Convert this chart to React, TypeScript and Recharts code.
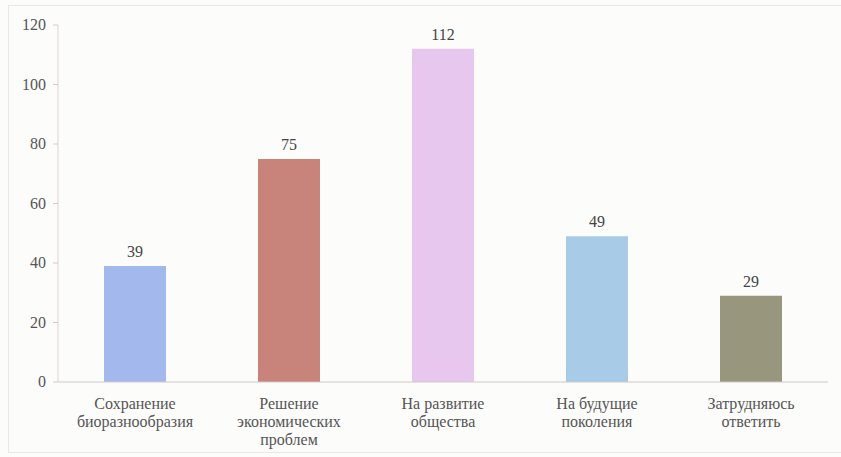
import { BarChart, Bar, XAxis, YAxis, Cell, LabelList } from "recharts";

const categories = [
  ["Сохранение", "биоразнообразия"],
  ["Решение", "экономических", "проблем"],
  ["На развитие", "общества"],
  ["На будущие", "поколения"],
  ["Затрудняюсь", "ответить"],
];
const values = [39, 75, 112, 49, 29];
const barColors = ["#a3b8ec", "#c8847b", "#e8c7ef", "#a8cbe7", "#98967c"];
const yTicks = [0, 20, 40, 60, 80, 100, 120];

const data = categories.map((lines, i) => ({ name: lines.join(" "), value: values[i] }));

const FONT = "Liberation Serif";

const CategoryTick = (props: any) => {
  const { x, y, payload, index } = props;
  const lines: string[] = categories[index] ?? [payload.value];
  return (
    <text x={x} y={y + 19} textAnchor="middle" fill="#555" fontSize={16} fontFamily={FONT}>
      {lines.map((line, i) => (
        <tspan key={i} x={x} dy={i === 0 ? 0 : 18}>
          {line}
        </tspan>
      ))}
    </text>
  );
};

const ValueTick = (props: any) => {
  const { x, y, payload } = props;
  return (
    <text x={x - 5} y={y} dy={5} textAnchor="end" fill="#555" fontSize={16} fontFamily={FONT}>
      {payload.value}
    </text>
  );
};

export default function App() {
  return (
    <div
      style={{
        position: "absolute",
        left: 0,
        top: 0,
        width: 841,
        height: 457,
        background: "#fcfcfb",
      }}
    >
      <div
        style={{
          position: "absolute",
          left: 8,
          top: 5,
          width: 833,
          height: 446,
          border: "1px solid #eee5e5",
          borderRight: "none",
        }}
      />
      <BarChart
        width={841}
        height={457}
        data={data}
        margin={{ top: 25, right: 13, left: 8, bottom: 5 }}
      >
        <XAxis
          dataKey="name"
          interval={0}
          height={70}
          tick={<CategoryTick />}
          tickLine={false}
          axisLine={{ stroke: "#cfc8c8" }}
        />
        <YAxis
          width={50}
          domain={[0, 120]}
          ticks={yTicks}
          tick={<ValueTick />}
          tickLine={{ stroke: "#d8c8c8" }}
          tickSize={5}
          axisLine={{ stroke: "#e0d2d2" }}
        />
        <Bar dataKey="value" isAnimationActive={false} barSize={62}>
          {data.map((_, i) => (
            <Cell key={i} fill={barColors[i]} />
          ))}
          <LabelList
            dataKey="value"
            position="top"
            offset={9}
            fill="#444"
            fontSize={16}
            fontFamily={FONT}
          />
        </Bar>
      </BarChart>
    </div>
  );
}
